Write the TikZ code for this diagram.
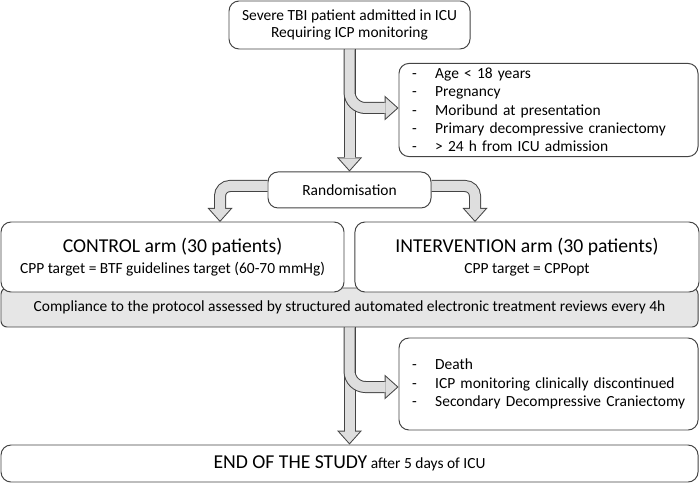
\documentclass[tikz,border=0pt]{standalone}
\usepackage{fontspec}
\setmainfont{Carlito}
\usepackage{tikz}
\usetikzlibrary{arrows.meta, positioning}
\definecolor{linegray}{RGB}{68, 68, 68}
\definecolor{arrowgray}{RGB}{222, 222, 222}
\definecolor{bandgray}{RGB}{230, 230, 230}

\newcommand{\dashitem}[1]{\mbox{\makebox[0.58cm][l]{-}#1}}
\newcommand{\fatarrow}[2][]{\draw[fatout, #1] #2; \draw[fatin, #1] #2;}

\begin{document}
\begin{tikzpicture}[
    node distance=0.25cm and 0.25cm,
    stepbox/.style={rectangle, rounded corners=0.25cm, draw=linegray, line width=0.7pt, fill=white, align=center, font=\fontsize{11}{12.2}\selectfont},
    listbox/.style={stepbox, align=left, text width=6.825cm, inner xsep=0.325cm, minimum height=2.3cm, font=\fontsize{11}{13}\selectfont},
    armbox/.style={stepbox, minimum height=1.75cm},
    bandbox/.style={stepbox, rounded corners=0.15cm, fill=bandgray, minimum width=17.425cm, minimum height=0.975cm},
    fatout/.style={draw=linegray, line width=0.3cm, -{Triangle[width=0.625cm, length=0.35cm, line width=0pt]}},
    fatin/.style={draw=arrowgray, line width=0.25cm, shorten >=0.0375cm, -{Triangle[width=0.513cm, length=0.2875cm, line width=0pt]}}
]
\useasboundingbox (0,0) rectangle (17.5,-12.075);

\node (admit) [stepbox, minimum width=6.025cm, minimum height=1.2cm] at (8.7375,-0.625) {Severe TBI patient admitted in ICU\\Requiring ICP monitoring};
\node (rand) [stepbox, minimum width=4.075cm, minimum height=0.9cm, below=3.05cm of admit] {Randomisation};
\node (excl) [listbox] at (13.7125,-2.75) {\dashitem{Age < 18 years}\\\dashitem{Pregnancy}\\\dashitem{Moribund at presentation}\\\dashitem{Primary decompressive craniectomy}\\\dashitem{> 24 h from ICU admission}};

\node (compliance) [bandbox] at (8.7375,-7.6875) {Compliance to the protocol assessed by structured automated electronic treatment reviews every 4h};
\node (control) [armbox, minimum width=8.575cm] at (4.3125,-6.425) {{\fontsize{14}{16}\selectfont CONTROL arm (30 patients)}\\[2.5pt]CPP target = BTF guidelines target (60-70 mmHg)};
\node (interv) [armbox, minimum width=8.6cm, right=of control] {{\fontsize{14}{16}\selectfont INTERVENTION arm (30 patients)}\\[2.5pt]CPP target = CPPopt};

\node (stopcrit) [listbox] at (13.7125,-9.6) {\dashitem{Death}\\\dashitem{ICP monitoring clinically discontinued}\\\dashitem{Secondary Decompressive Craniectomy}};
\node (studyend) [stepbox, minimum width=17.425cm, minimum height=0.925cm] at (8.7375,-11.5875) {{\fontsize{14}{16}\selectfont END OF THE STUDY} after 5 days of ICU};

\coordinate (ctrlin) at (5.5,-5.55);
\coordinate (intin) at (11.875,-5.55);

% exclusion branch over the main shaft
\fatarrow{(admit.south) -- (rand.north)}
\fatarrow[rounded corners=0.4cm]{(admit.south) |- ([yshift=0.05cm]excl.west)}

\fatarrow[rounded corners=0.25cm]{([yshift=0.1cm]rand.west) -| (ctrlin)}
\fatarrow[rounded corners=0.25cm]{([yshift=0.1cm]rand.east) -| (intin)}

% stopping criteria branch
\fatarrow{(compliance.south) -- (compliance.south |- studyend.north)}
\fatarrow[rounded corners=0.4cm]{(compliance.south) |- ([yshift=-0.075cm]stopcrit.west)}

\end{tikzpicture}
\end{document}
